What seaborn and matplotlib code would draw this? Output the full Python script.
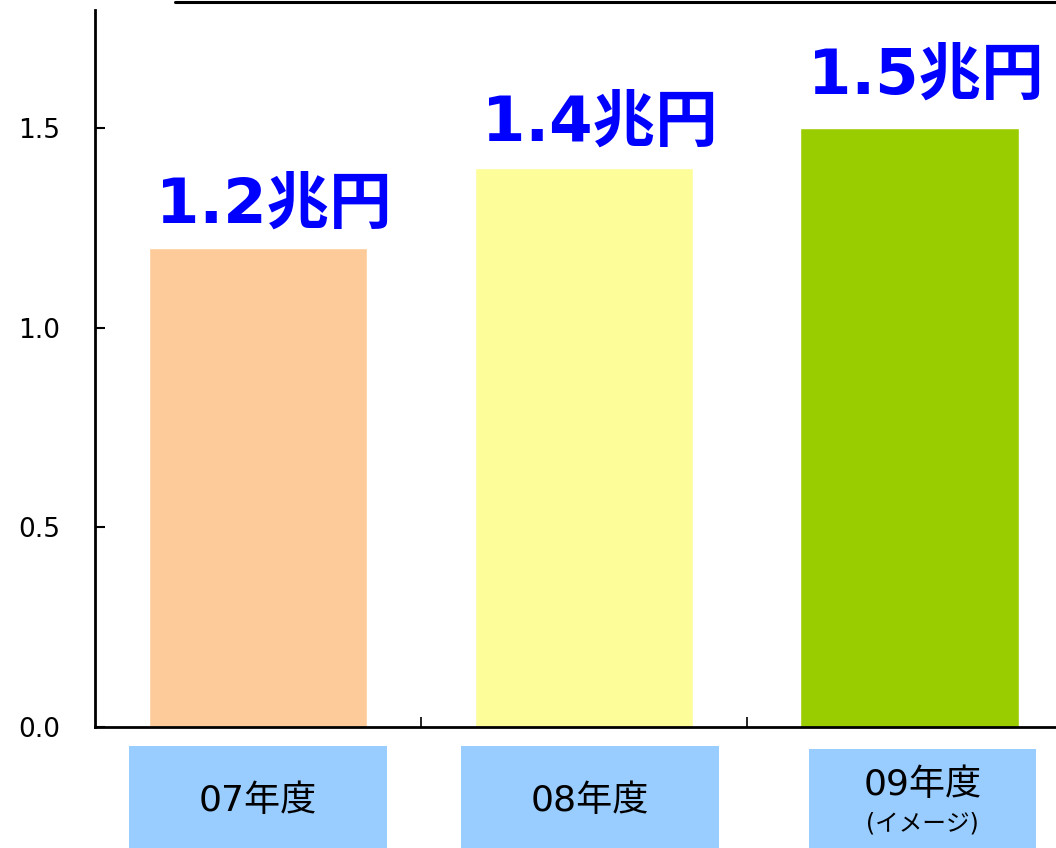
import matplotlib
matplotlib.use("Agg")
import matplotlib.pyplot as plt
import seaborn as sns
import pandas as pd
from matplotlib.lines import Line2D
from matplotlib.patches import Rectangle
import matplotlib.transforms as mtransforms

categories = ["07年度", "08年度", "09年度"]
sublabels = ["", "", "(イメージ)"]
values = [1.2, 1.4, 1.5]
value_labels = ["1.2兆円", "1.4兆円", "1.5兆円"]
bar_colors = ["#FDCB9A", "#FDFD9A", "#9ACD00"]
yticks = [0.0, 0.5, 1.0, 1.5]
ytick_labels = ["0.0", "0.5", "1.0", "1.5"]

sns.set_style("white")
FAM = ['DejaVu Sans', 'Noto Sans CJK JP']
plt.rcParams['font.family'] = FAM
plt.rcParams['text.color'] = 'black'
plt.rcParams['xtick.color'] = 'black'
plt.rcParams['ytick.color'] = 'black'

fig = plt.figure(figsize=(10.56, 8.48), dpi=100)
ax = fig.add_axes([95/1056, (848-727)/848, (1056-95)/1056, 717/848])

df = pd.DataFrame({"cat": categories, "val": values})
sns.barplot(data=df, x="cat", y="val", hue="cat", palette=bar_colors,
            width=0.67, legend=False, ax=ax, saturation=1)

ax.set_xlim(-0.5, 2.45)
ax.set_ylim(0, 1.796)
ax.set_yticks(yticks)
ax.set_yticklabels(ytick_labels, fontsize=19)
ax.set_xticks([0.5, 1.5])
ax.set_xticklabels([])
ax.set_xlabel("")
ax.set_ylabel("")
ax.tick_params(axis="y", left=True, direction="in", length=7, width=1.5, pad=25,
               color="black", labelcolor="black")
ax.tick_params(axis="x", bottom=True, direction="in", length=7, width=1.2, color="black")
for s in ["top", "right"]:
    ax.spines[s].set_visible(False)
for s in ["left", "bottom"]:
    ax.spines[s].set_color("black")
    ax.spines[s].set_linewidth(2)

# value labels
label_dy = [0.03, 0.035, 0.055]
for i, (v, lab) in enumerate(zip(values, value_labels)):
    ax.text(i + 0.05, v + label_dy[i], lab, ha="center", va="bottom", color="#0000FF",
            fontsize=45, fontweight="bold", family=FAM)

# category label boxes
trans = mtransforms.blended_transform_factory(ax.transData, ax.transAxes)
box_half = [0.395, 0.395, 0.348]
box_center = [0.0, 1.02, 2.041]
box_top = [-0.0265, -0.0265, -0.031]
for i, (cat, sub) in enumerate(zip(categories, sublabels)):
    c = box_center[i]
    r = Rectangle((c - box_half[i], -0.2), 2 * box_half[i], box_top[i] + 0.2,
                  transform=trans, facecolor="#99CCFF", edgecolor="none",
                  clip_on=False)
    ax.add_patch(r)
    if sub:
        ax.text(c, -0.081, cat, transform=trans, ha="center", va="center", fontsize=26)
        ax.text(c, -0.134, sub, transform=trans, ha="center", va="center", fontsize=17)
    else:
        ax.text(c, -0.103, cat, transform=trans, ha="center", va="center", fontsize=26)

# top decorative line
fig.add_artist(Line2D([175/1056, 1.0], [1 - 1.5/848, 1 - 1.5/848], color="black",
                      linewidth=2.2, transform=fig.transFigure))

fig.savefig("out.png", dpi=100)
